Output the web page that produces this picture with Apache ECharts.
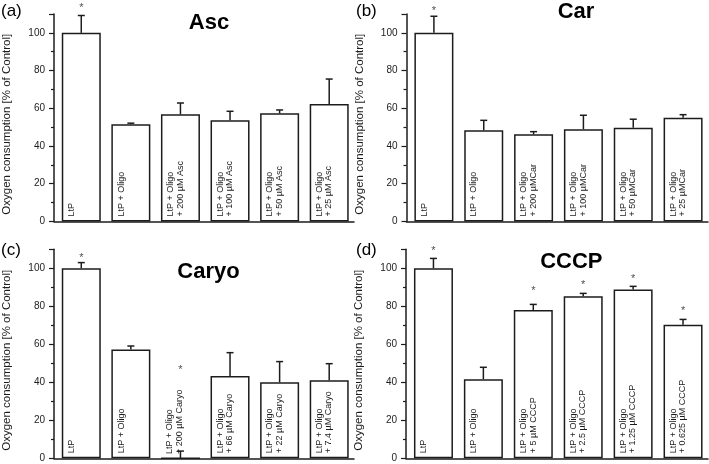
<!DOCTYPE html>
<html>
<head>
<meta charset="utf-8">
<script src="https://cdn.jsdelivr.net/npm/echarts@6/dist/echarts.min.js"></script>
<style>
html,body{margin:0;padding:0;background:#fff;}
#chart{width:709px;height:464px;}
</style>
</head>
<body>
<div id="chart"></div>
<script>
// ---------- data ----------
const yTickLabels = [0, 20, 40, 60, 80, 100];

const catsA = ['LtP', 'LtP + Oligo', 'LtP + Oligo\n+ 200 µM Asc', 'LtP + Oligo\n+ 100 µM Asc', 'LtP + Oligo\n+ 50 µM Asc', 'LtP + Oligo\n+ 25 µM Asc'];
const meanA = [100, 51.5, 56.8, 53.6, 57.3, 62.3];
const errA  = [9.2, 0.6, 6.0, 4.8, 1.8, 13.2];
const starXA = [0];
const starYA = [114.5];

const catsB = ['LtP', 'LtP + Oligo', 'LtP + Oligo\n+ 200 µMCar', 'LtP + Oligo\n+ 100 µMCar', 'LtP + Oligo\n+ 50 µMCar', 'LtP + Oligo\n+ 25 µMCar'];
const meanB = [100, 48.3, 46.2, 48.9, 49.7, 55.0];
const errB  = [8.8, 5.3, 1.4, 7.4, 4.5, 1.6];
const starXB = [0];
const starYB = [113];

const catsC = ['LtP', 'LtP + Oligo', 'LtP + Oligo\n+ 200 µM Caryo', 'LtP + Oligo\n+ 66 µM Caryo', 'LtP + Oligo\n+ 22 µM Caryo', 'LtP + Oligo\n+ 7.4 µM Caryo'];
const meanC = [100, 57.2, 0, 43.3, 40.0, 41.1];
const errC  = [3.0, 1.9, 3.8, 12.3, 10.9, 8.7];
const starXC = [0, 2];
const starYC = [107, 47.9];

const catsD = ['LtP', 'LtP + Oligo', 'LtP + Oligo\n+ 5 µM CCCP', 'LtP + Oligo\n+ 2.5 µM CCCP', 'LtP + Oligo\n+ 1.25 µM CCCP', 'LtP + Oligo\n+ 0.625 µM CCCP'];
const meanD = [100, 41.6, 78.0, 85.3, 88.9, 70.3];
const errD  = [5.2, 6.3, 3.0, 1.5, 1.6, 2.8];
const starXD = [0, 2, 3, 4, 5];
const starYD = [110.2, 89.5, 92.6, 95.6, 79.1];

const titles = ['Asc', 'Car', 'Caryo', 'CCCP'];
const panelLetters = ['(a)', '(b)', '(c)', '(d)'];
const yName = 'Oxygen consumption [% of Control]';

// ---------- layout / style ----------
const FONT = '"Liberation Sans", Arial, sans-serif';
const INK = '#1c1c1c';
const panels = [
  {cats: catsA, mean: meanA, err: errA, sx: starXA, sy: starYA,
   grid: {left: 53, top: 14, width: 301, height: 207.4}, title: [209, 23.3], letter: [1, 11]},
  {cats: catsB, mean: meanB, err: errB, sx: starXB, sy: starYB,
   grid: {left: 406.5, top: 14, width: 301.5, height: 207.4}, title: [576, 11.5], letter: [356, 11]},
  {cats: catsC, mean: meanC, err: errC, sx: starXC, sy: starYC,
   grid: {left: 53, top: 249.3, width: 301, height: 209}, title: [208.5, 271.7], letter: [1, 250]},
  {cats: catsD, mean: meanD, err: errD, sx: starXD, sy: starYD,
   grid: {left: 406, top: 249.3, width: 302, height: 209}, title: [571.3, 261.7], letter: [356, 250]}
];

const grids = [], xAxes = [], yAxes = [], series = [], graphics = [];

panels.forEach((p, k) => {
  grids.push(Object.assign({containLabel: false}, p.grid));
  xAxes.push({
    type: 'value', gridIndex: k, min: -0.55, max: 5.5,
    axisLine: {show: true, onZero: false, lineStyle: {color: INK, width: 1.5}},
    axisTick: {show: false}, axisLabel: {show: false}, splitLine: {show: false}
  });
  yAxes.push({
    type: 'value', gridIndex: k, min: 0, max: 110, interval: 20,
    name: yName, nameLocation: 'middle', nameGap: 41,
    nameTextStyle: {fontFamily: FONT, fontSize: 11.5, color: INK, padding: [0, 13, 0, 0]},
    axisLine: {show: true, onZero: false, lineStyle: {color: INK, width: 1.5}},
    axisTick: {show: true, length: 5, lineStyle: {color: INK, width: 1.2}},
    minorTick: {show: true, splitNumber: 2, length: 3, lineStyle: {color: INK, width: 1.2}},
    axisLabel: {fontFamily: FONT, fontSize: 10, color: INK, margin: 9, showMaxLabel: false,
      formatter: v => (yTickLabels.indexOf(v) >= 0 ? String(v) : '')},
    splitLine: {show: false}, minorSplitLine: {show: false}
  });
  const cats = p.cats;
  series.push({
    type: 'bar', xAxisIndex: k, yAxisIndex: k, barWidth: 39,
    data: p.mean.map((m, i) => [i, m]),
    itemStyle: {color: '#fff', borderColor: INK, borderWidth: 1.5},
    label: {
      show: true, position: [5, '100%'], rotate: 90, align: 'left', verticalAlign: 'top',
      padding: [0, 0, 0, 5], fontFamily: FONT, fontSize: 9, lineHeight: 9.5, color: INK,
      formatter: prm => cats[prm.dataIndex]
    },
    emphasis: {disabled: true}, silent: true, z: 2
  });
  series.push({
    type: 'custom', xAxisIndex: k, yAxisIndex: k, z: 3, silent: true, clip: false,
    data: p.mean.map((m, i) => [i, m, p.err[i]]),
    renderItem: (params, api) => {
      const x = api.value(0), m = api.value(1), e = api.value(2);
      const a = api.coord([x, m]), b = api.coord([x, m + e]);
      const st = {stroke: INK, lineWidth: 1.5};
      return {type: 'group', children: [
        {type: 'line', shape: {x1: a[0], y1: a[1], x2: b[0], y2: b[1]}, style: st},
        {type: 'line', shape: {x1: b[0] - 3.5, y1: b[1], x2: b[0] + 3.5, y2: b[1]}, style: st}
      ]};
    }
  });
  series.push({
    type: 'scatter', xAxisIndex: k, yAxisIndex: k, z: 4, silent: true, clip: false,
    symbolSize: 1, itemStyle: {color: 'rgba(0,0,0,0)'},
    data: p.sx.map((x, i) => [x, p.sy[i]]),
    label: {show: true, position: 'inside', formatter: '*', fontFamily: FONT, fontSize: 11,
      color: INK, offset: [0, 2.5]}
  });
  graphics.push({type: 'text', x: p.title[0], y: p.title[1], silent: true,
    style: {text: titles[k], fontFamily: FONT, fontSize: 22, fontWeight: 'bold', fill: '#000',
      align: 'center', verticalAlign: 'middle'}});
  graphics.push({type: 'text', x: p.letter[0], y: p.letter[1], silent: true,
    style: {text: panelLetters[k], fontFamily: FONT, fontSize: 17, fill: '#000',
      align: 'left', verticalAlign: 'middle'}});
});

const chart = echarts.init(document.getElementById('chart'), null, {renderer: 'canvas'});
chart.setOption({
  animation: false,
  backgroundColor: '#fff',
  textStyle: {fontFamily: FONT},
  grid: grids, xAxis: xAxes, yAxis: yAxes, series: series, graphic: graphics
});
</script>
</body>
</html>
